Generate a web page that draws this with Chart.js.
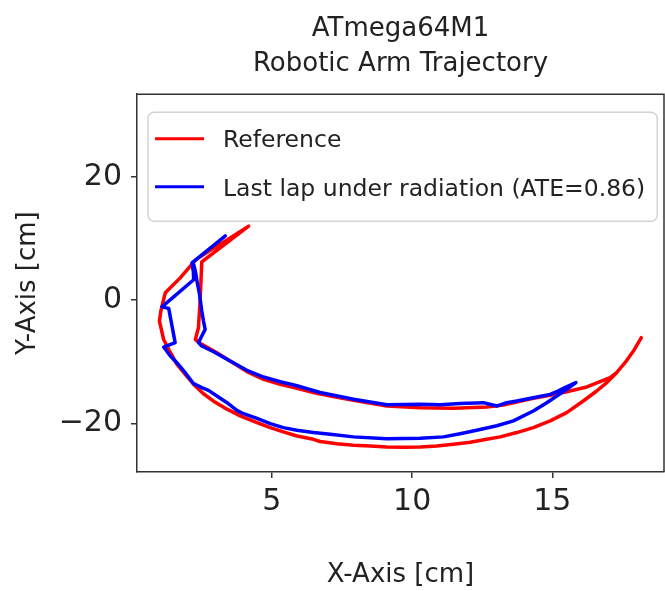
<!DOCTYPE html>
<html>
<head>
<meta charset="utf-8">
<script src="https://cdn.jsdelivr.net/npm/chart.js@4.4.0/dist/chart.umd.min.js"></script>
<style>
  html, body { margin: 0; padding: 0; background: #fff; }
</style>
</head>
<body>
<canvas id="trajChart" width="665" height="591"></canvas>
<script>
// chart data
const titleLines = ['ATmega64M1', 'Robotic Arm Trajectory'];
const seriesNames = ['Reference', 'Last lap under radiation (ATE=0.86)'];

const refX = [18.17, 17.89, 17.59, 17.29, 16.94, 16.58, 16.1, 15.51, 14.92, 14.32, 13.73, 13.14, 12.66, 12.07, 11.47, 10.88, 10.29, 9.69, 9.1, 8.5,
              7.91, 7.32, 6.72, 6.48, 5.89, 5.41, 4.94, 4.47, 3.87, 3.4, 2.92, 2.56, 2.21, 1.91, 1.61, 1.38, 1.14, 0.99, 1.04, 1.14,
              1.2, 1.73, 2.3, 4.17, 2.5, 2.44, 2.38, 2.27, 2.5, 3.04, 3.51, 4.11, 4.7, 5.3, 5.89, 6.48, 7.08, 7.91, 9.1, 10.29,
              11.47, 12.66, 13.25, 13.8, 14.32, 14.92, 15.51, 16.23, 16.7, 17.06, 17.29];
const refY = [-6.1, -8.27, -10.17, -11.79, -13.4, -14.76, -16.38, -18.27, -19.6, -20.7, -21.5, -22.2, -22.6, -23.08, -23.4, -23.68, -23.84, -23.9, -23.84, -23.7,
              -23.57, -23.3, -22.95, -22.6, -22.06, -21.4, -20.7, -19.9, -18.8, -17.7, -16.4, -15.2, -13.7, -12.05, -10.4, -8.5, -6.4, -3.4, -1.78, 0.1,
              1.18, 3.6, 6.6, 12.0, 6.2, -0.2, -4.5, -6.4, -7.19, -8.54, -9.9, -11.6, -12.87, -13.68, -14.3, -15.0, -15.57, -16.27, -17.2, -17.46,
              -17.57, -17.35, -17.03, -16.45, -15.95, -15.46, -14.87, -14.1, -13.25, -12.6, -11.79];

const lapX = [3.34, 2.15, 2.2, 2.21, 1.08, 1.32, 1.55, 1.14, 1.38, 1.61, 1.91, 2.21, 2.5, 2.74, 3.04, 3.4, 3.75, 3.99, 4.47, 4.94,
              5.41, 5.89, 6.48, 7.08, 7.91, 9.1, 10.29, 11.12, 11.71, 12.3, 13.02, 13.61, 14.32, 14.8, 15.21, 15.57, 15.84, 15.39, 15.15, 14.92,
              14.32, 13.73, 13.37, 13.02, 12.54, 11.71, 11.0, 10.29, 9.1, 7.91, 6.72, 5.89, 5.3, 4.7, 4.11, 3.51, 2.92, 2.5, 2.38, 2.5,
              2.62, 2.56, 2.5, 2.42, 2.33, 2.27, 2.21];
const lapY = [10.4, 6.05, 4.6, 3.3, -1.1, -1.35, -6.9, -7.62, -9.08, -10.17, -11.79, -13.57, -14.2, -14.65, -15.57, -16.65, -17.9, -18.44, -19.19, -20.06,
              -20.7, -21.13, -21.5, -21.78, -22.2, -22.49, -22.43, -22.2, -21.68, -21.13, -20.4, -19.6, -18.0, -16.65, -15.4, -14.3, -13.4, -14.33, -14.87, -15.3,
              -15.84, -16.38, -16.65, -17.2, -16.65, -16.8, -17.0, -16.92, -17.0, -16.1, -15.0, -13.9, -13.25, -12.49, -11.4, -9.9, -8.38, -7.46, -6.9, -5.84,
              -4.76, -3.4, -1.78, 0.92, 3.08, 4.7, 5.79];

const xTicks = [5, 10, 15];
const yTicks = [-20, 0, 20];

const toPoints = (xs, ys) => xs.map((x, i) => ({ x: x, y: ys[i] }));
const textColor = '#222';
const spineColor = '#333';
Chart.defaults.font.family = '"DejaVu Sans", sans-serif';

// top and right spines, like a matplotlib box
const boxFrame = {
    id: 'boxFrame',
    afterDraw(chart) {
        const a = chart.chartArea;
        const ctx = chart.ctx;
        ctx.save();
        ctx.strokeStyle = spineColor;
        ctx.lineWidth = 1.5;
        ctx.beginPath();
        ctx.moveTo(a.left, a.top);
        ctx.lineTo(a.right, a.top);
        ctx.lineTo(a.right, a.bottom);
        ctx.stroke();
        ctx.restore();
    }
};

// legend drawn inside the axes, upper left
const boxLegend = {
    id: 'boxLegend',
    afterDatasetsDraw(chart) {
        const a = chart.chartArea;
        const ctx = chart.ctx;
        const sets = chart.data.datasets;
        ctx.save();
        ctx.font = '23.5px "DejaVu Sans"';
        const textX = a.left + 86;
        const lineY = [a.top + 44.5, a.top + 92.5];
        const baseY = [a.top + 53, a.top + 102];
        let w = 0;
        sets.forEach(ds => { w = Math.max(w, ctx.measureText(ds.label).width); });
        const fx = a.left + 11, fy = a.top + 18;
        ctx.beginPath();
        ctx.roundRect(fx, fy, textX + w + 12 - fx, 109, 6);
        ctx.fillStyle = 'rgba(255,255,255,0.8)';
        ctx.fill();
        ctx.strokeStyle = '#d4d4d4';
        ctx.lineWidth = 1.5;
        ctx.stroke();
        sets.forEach((ds, i) => {
            ctx.strokeStyle = ds.borderColor;
            ctx.lineWidth = 3;
            ctx.beginPath();
            ctx.moveTo(a.left + 18, lineY[i]);
            ctx.lineTo(a.left + 67, lineY[i]);
            ctx.stroke();
            ctx.fillStyle = textColor;
            ctx.textBaseline = 'alphabetic';
            ctx.fillText(ds.label, textX, baseY[i]);
        });
        ctx.restore();
    }
};

const ctx = document.getElementById('trajChart').getContext('2d');
new Chart(ctx, {
    type: 'scatter',
    data: {
        datasets: [{
            label: seriesNames[0],
            data: toPoints(refX, refY),
            showLine: true,
            borderColor: '#ff0000',
            borderWidth: 3.5,
            borderJoinStyle: 'round',
            borderCapStyle: 'round',
            pointRadius: 0,
            tension: 0,
            order: 2
        }, {
            label: seriesNames[1],
            data: toPoints(lapX, lapY),
            showLine: true,
            borderColor: '#0000ff',
            borderWidth: 3.5,
            borderJoinStyle: 'round',
            borderCapStyle: 'round',
            pointRadius: 0,
            tension: 0,
            order: 1
        }]
    },
    options: {
        responsive: false,
        animation: false,
        layout: { padding: { left: 0, right: 1, top: 0, bottom: 0 } },
        plugins: {
            legend: { display: false },
            tooltip: { enabled: false },
            title: {
                display: true,
                text: titleLines,
                fullSize: false,
                color: textColor,
                font: { size: 26, weight: 'normal', lineHeight: 1.37 },
                padding: { top: 11, bottom: 12 }
            }
        },
        scales: {
            x: {
                type: 'linear',
                position: 'bottom',
                min: 0.19,
                max: 18.98,
                afterBuildTicks: s => { s.ticks = xTicks.map(v => ({ value: v })); },
                afterFit: s => { s.height = 119; },
                ticks: { color: textColor, font: { size: 30 }, padding: 6, maxRotation: 0 },
                grid: { drawOnChartArea: false, tickLength: 6, color: spineColor, lineWidth: 1.5 },
                border: { color: spineColor, width: 1.5 },
                title: { display: true, text: 'X-Axis [cm]', color: textColor, font: { size: 26 }, padding: { top: 0, bottom: 0 } }
            },
            y: {
                type: 'linear',
                min: -27.9,
                max: 33.4,
                afterBuildTicks: s => { s.ticks = yTicks.map(v => ({ value: v })); },
                afterFit: s => { s.width = 137; },
                ticks: {
                    color: textColor,
                    font: { size: 30 },
                    padding: 9,
                    callback: v => v < 0 ? '\u2212' + Math.abs(v) : String(v)
                },
                grid: { drawOnChartArea: false, tickLength: 6, color: spineColor, lineWidth: 1.5 },
                border: { color: spineColor, width: 1.5 },
                title: { display: true, text: 'Y-Axis [cm]', color: textColor, font: { size: 26 }, padding: { top: 13, bottom: 0 } }
            }
        }
    },
    plugins: [boxFrame, boxLegend]
});
</script>
</body>
</html>
